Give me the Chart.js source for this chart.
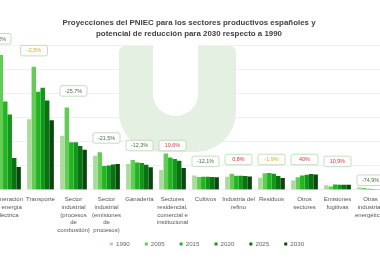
<!DOCTYPE html>
<html><head><meta charset="utf-8">
<script src="https://cdn.jsdelivr.net/npm/chart.js@4.4.1/dist/chart.umd.min.js"></script>
<style>
html,body{margin:0;padding:0;background:#fff;overflow:hidden;width:380px;height:260px;}
#wrap{position:absolute;left:-9px;top:0;width:400px;height:260px;}
</style></head><body>
<div id="wrap"><canvas id="c" width="400" height="260"></canvas></div>
<script>
// ---- data ----
const categories = [
  ['Generación', 'de energía', 'eléctrica'],
  'Transporte',
  ['Sector', 'industrial', '(procesos', 'de', 'combustión)'],
  ['Sector', 'industrial', '(emisiones', 'de', 'procesos)'],
  'Ganadería',
  ['Sectores', 'residencial,', 'comercial e', 'institucional'],
  'Cultivos',
  ['Industria del', 'refino'],
  'Residuos',
  ['Otros', 'sectores'],
  ['Emisiones', 'fugitivas'],
  ['Otras', 'industrias', 'energéticas']
];
const years = ['1990', '2005', '2015', '2020', '2025', '2030'];
const v1990 = [65.9, 58.7, 45.0, 28.4, 21.5, 16.5, 12.0, 10.9, 10.0, 7.7, 3.8, 2.1];
const v2005 = [112.4, 102.5, 68.5, 31.2, 24.8, 30.3, 10.6, 13.3, 13.8, 10.4, 2.8, 1.4];
const v2015 = [73.5, 81.8, 39.7, 19.8, 22.8, 27.0, 10.9, 11.7, 14.0, 11.9, 4.4, 0.8];
const v2020 = [62.8, 85.1, 39.7, 20.3, 22.3, 25.6, 10.8, 11.8, 13.4, 12.6, 4.2, 0.6];
const v2025 = [26.4, 74.4, 36.4, 21.0, 20.9, 24.2, 10.7, 11.4, 11.5, 13.2, 4.2, 0.5];
const v2030 = [19.0, 57.9, 33.4, 21.5, 18.8, 18.2, 10.5, 11.0, 9.8, 12.8, 4.2, 0.5];
const changeLabels = ['-71,2%', '-2,5%', '-25,7%', '-21,5%', '-12,3%', '10,6%', '-12,1%', '0,8%', '-1,9%', '40%', '10,9%', '-74,9%'];
// value (Mt) at which each change box sits (annotation anchor, bottom of box)
const labelAnchor = [121.5, 111.6, 78, 38.8, 32.5, 32.5, 19.3, 20.9, 20.9, 20.9, 19.3, 3.6];
const yTicksMax = 120;

// ---- styles ----
const colors = ['#a9dc9c', '#62cc55', '#22b522', '#14961c', '#0b7214', '#0a470d'];
const labelNudge = [-10, -6.5, 0, 0, 0, 0, 0, 0, 0, 0, 0, 0];
const series = [v1990, v2005, v2015, v2020, v2025, v2030];
const FONT = '"Liberation Sans", Arial, sans-serif';

function changeColor(t) {
  const n = parseFloat(t.replace(',', '.'));
  if (n >= 0) return '#e5323a';
  if (n > -5) return '#e2a81e';
  return '#4a6e46';
}

const watermark = {
  id: 'watermark',
  beforeDatasetsDraw(chart) {
    const c = chart.ctx;
    c.save();
    c.translate(9, 0); // page -> canvas
    c.fillStyle = '#e4f0e1';
    c.beginPath();
    c.roundRect(119, 46, 117, 106, [6, 6, 40, 40]);
    c.fill();
    c.fillStyle = '#ffffff';
    c.beginPath();
    c.roundRect(153, 40, 45, 76, [0, 0, 22, 22]);
    c.fill();
    c.restore();
  }
};

const boxes = {
  id: 'boxes',
  afterDatasetsDraw(chart) {
    const c = chart.ctx, xs = chart.scales.x, ys = chart.scales.y;
    c.save();
    c.font = '5.4px ' + FONT;
    c.textAlign = 'center'; c.textBaseline = 'middle';
    changeLabels.forEach((t, i) => {
      const x = xs.getPixelForValue(i) + labelNudge[i];
      const yb = ys.getPixelForValue(labelAnchor[i]);
      const w = 27, h = 10.5;
      c.beginPath();
      c.roundRect(x - w / 2, yb - h, w, h, 2);
      c.fillStyle = '#ffffff'; c.fill();
      c.strokeStyle = '#b7d4b0'; c.lineWidth = 0.8; c.stroke();
      c.fillStyle = changeColor(t);
      c.fillText(t, x, yb - h / 2 + 0.3);
    });
    c.restore();
  }
};

const legendMove = {
  id: 'legendMove',
  afterLayout(chart) {
    const lg = chart.legend;
    lg.left += 18; lg.right += 18;
    const pad = lg.options.labels.padding;
    const fs = lg.options.labels.font.size;
    const dy = (244 - pad - fs / 2) - lg.top;
    lg.top += dy; lg.bottom += dy;
    chart.scales.x.bottom = chart.height; // let multi-line tick labels extend without clipping
  }
};

new Chart(document.getElementById('c'), {
  type: 'bar',
  data: {
    labels: categories,
    datasets: years.map((y, k) => ({
      label: y,
      data: series[k],
      backgroundColor: colors[k],
      borderWidth: 0,
      barPercentage: 1.0,
      categoryPercentage: 0.81
    }))
  },
  options: {
    responsive: false,
    animation: false,
    layout: { autoPadding: false, padding: { left: 0, right: 4, top: 0, bottom: 0 } },
    plugins: {
      title: {
        display: true,
        text: ['Proyecciones del PNIEC para los sectores productivos españoles y', 'potencial de reducción para 2030 respecto a 1990'],
        color: '#3f3f3f',
        font: { family: FONT, size: 7.9, weight: 'bold', lineHeight: 1.38 },
        padding: { top: 17, bottom: 7 }
      },
      legend: {
        position: 'bottom',
        labels: {
          usePointStyle: true,
          pointStyle: 'rect',
          boxWidth: 3, boxHeight: 3,
          padding: 15,
          color: '#666',
          font: { family: FONT, size: 6.2 }
        }
      },
      tooltip: { enabled: false }
    },
    scales: {
      x: {
        grid: { display: false, drawTicks: false },
        border: { display: false },
        ticks: {
          color: '#555',
          padding: 6,
          maxRotation: 0, autoSkip: false,
          font: { family: FONT, size: 6, lineHeight: 1.27 }
        },
        afterFit(s) { s.height = 39; s.paddingLeft = 0; s.paddingRight = 0; }
      },
      y: {
        display: true,
        min: 0, max: yTicksMax,
        ticks: { display: false, stepSize: 20 },
        grid: { color: '#ececec', lineWidth: 0.8, drawTicks: false },
        border: { display: false },
        afterFit(s) { s.width = 0; s.paddingTop = 0; s.paddingBottom = 0; }
      }
    }
  },
  plugins: [watermark, boxes, legendMove]
});
</script>
</body></html>
